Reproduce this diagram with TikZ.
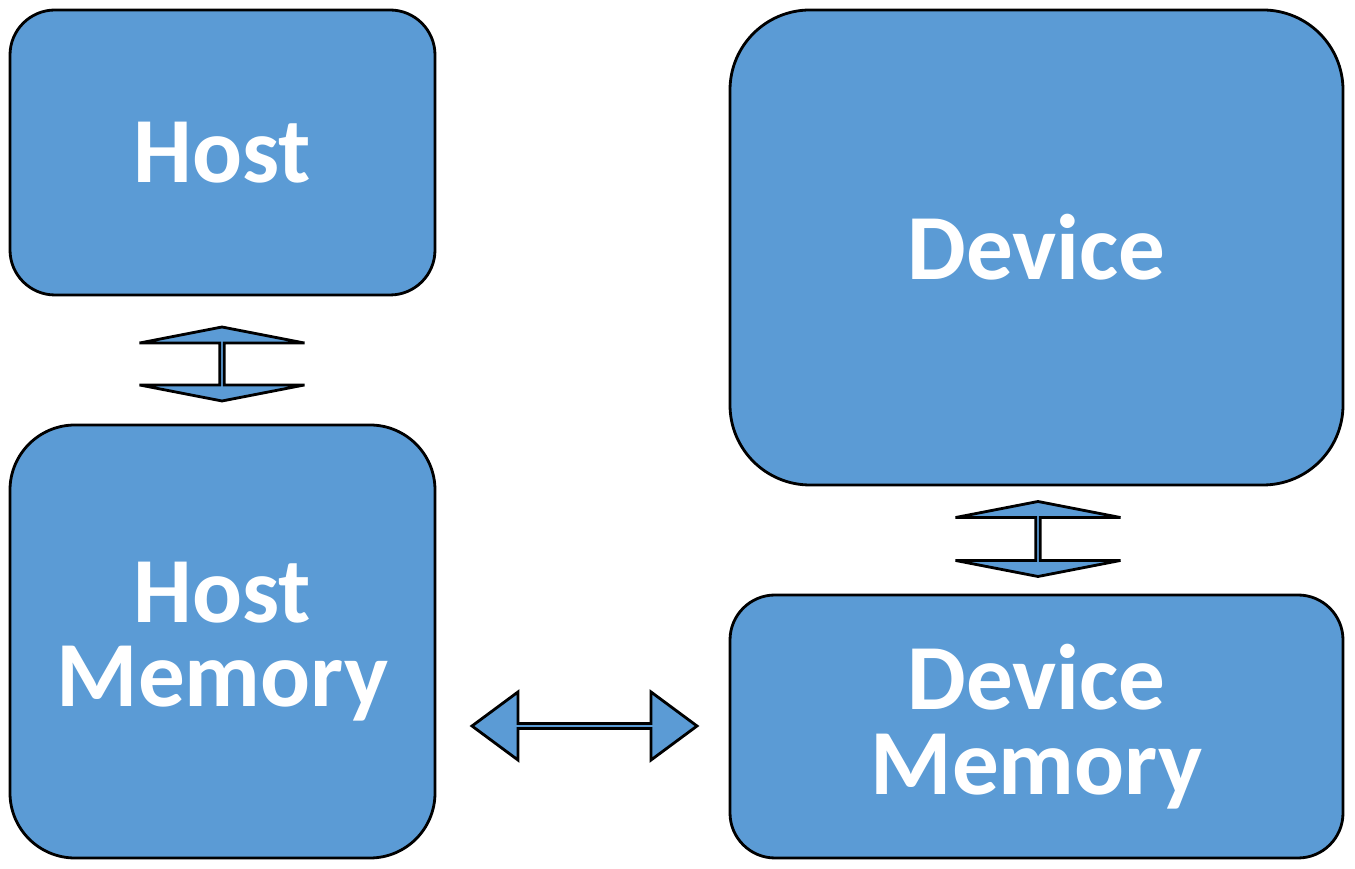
\documentclass[tikz,border=0pt]{standalone}
\usepackage{fontspec}
\setmainfont{Carlito}
\usetikzlibrary{shapes.arrows}

\begin{document}
\begin{tikzpicture}
    \tikzstyle{unit}=[rectangle,draw,line width=1.6pt,fill=blue1,text=white,
                      font=\fontsize{53}{48}\selectfont\bfseries,align=center,inner sep=0pt]
    \tikzstyle{link}=[double arrow,draw,line width=1.6pt,fill=blue1,inner sep=0pt]
    \definecolor{blue1}{HTML}{5B9BD5}

    \useasboundingbox (0,0) rectangle (27.1,17.38);

    \node[unit,minimum width=8.5cm,minimum height=5.7cm,rounded corners=0.9cm]
        (host) at (4.45,14.33) {Host};
    \node[unit,minimum width=8.5cm,minimum height=8.66cm,rounded corners=1.3cm]
        (hostmem) at (4.45,4.55) {Host\\Memory};
    \node[unit,minimum width=12.26cm,minimum height=9.5cm,rounded corners=1.6cm]
        (dev) at (20.73,12.43) {Device};
    \node[unit,minimum width=12.26cm,minimum height=5.26cm,rounded corners=0.9cm]
        (devmem) at (20.73,2.85) {Device\\Memory};

    % connectors between the units
    \node[link,rotate=90,minimum height=1.48cm,minimum width=3.3cm,
          double arrow head extend=0.97cm,double arrow tip angle=158]
        (hostlink) at (4.44,10.1) {};
    \node[link,rotate=90,minimum height=1.5cm,minimum width=3.3cm,
          double arrow head extend=0.97cm,double arrow tip angle=158]
        (devlink) at (20.76,6.6) {};
    \node[link,minimum height=4.5cm,minimum width=1.36cm,
          double arrow head extend=0.36cm,double arrow tip angle=73]
        (memlink) at (11.69,2.86) {};
\end{tikzpicture}
\end{document}
